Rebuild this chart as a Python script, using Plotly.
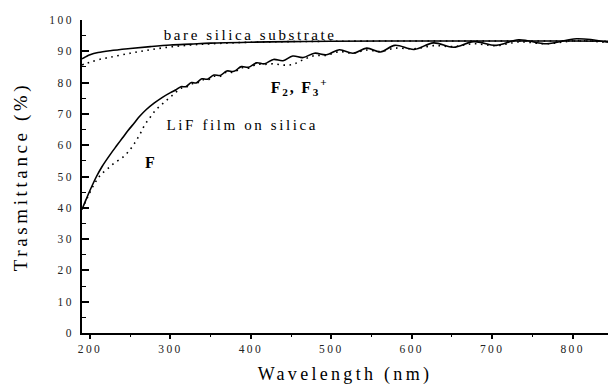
import plotly.graph_objects as go

# ---- data ----
wl_bare = [190, 195, 200, 210, 225, 250, 275, 300, 325, 350, 400, 450, 500, 600, 700, 800, 844]
bare_solid = [87.6, 88.3, 88.9, 89.6, 90.2, 90.9, 91.5, 92.0, 92.3, 92.6, 92.9, 93.1, 93.2, 93.3, 93.3, 93.3, 93.2]
bare_dotted = [85.6, 86.1, 86.5, 87.3, 88.1, 89.4, 90.5, 91.4, 92.0, 92.4, 92.9, 93.1, 93.2, 93.3, 93.3, 93.3, 93.2]

wl_lif = [190, 195, 200, 208, 215, 225, 233, 240, 247, 255, 262, 270, 280, 290, 300, 307,
          313, 319, 326, 332, 339, 346, 354, 362, 370, 379, 388, 397, 407, 417, 428, 440,
          452, 465, 479, 494, 510, 527, 544, 561, 579, 603, 627, 652, 677, 705, 733, 768, 805, 844]
lif_solid = [39.5, 42.6, 45.6, 50.0, 53.2, 57.0, 59.8, 62.2, 64.6, 67.1, 69.3, 71.4, 73.5, 75.3, 76.8, 77.7,
             78.7, 78.7, 80.0, 79.9, 81.2, 81.1, 82.4, 82.3, 83.7, 83.6, 85.1, 84.9, 86.3, 86.0, 87.4, 87.0,
             88.5, 88.0, 89.4, 88.9, 90.5, 89.4, 91.0, 89.8, 91.9, 90.6, 92.7, 91.3, 93.1, 91.9, 93.7, 92.4, 94.0, 92.9]

wl_lif_dot = [190, 195, 200, 205, 210, 215, 222, 230, 240, 248, 255, 262, 268, 275, 282, 290, 298, 305,
              313, 319, 326, 332, 339, 346, 354, 362, 370, 379, 388, 397, 407, 417, 428, 440,
              452, 465, 479, 494, 510, 527, 544, 561, 579, 603, 627, 652, 677, 705, 733, 768, 805, 844]
lif_dotted = [39.5, 42.3, 45.0, 47.5, 49.5, 51.0, 52.5, 54.3, 56.0, 58.0, 60.5, 63.5, 66.5, 69.0, 71.3, 73.2, 75.0, 76.5,
              78.2, 78.4, 79.6, 79.6, 80.9, 80.8, 82.0, 82.0, 83.4, 83.3, 84.7, 84.6, 85.8, 85.8, 86.0, 85.6,
              85.8, 87.3, 88.6, 88.7, 89.9, 89.4, 90.4, 89.9, 91.0, 90.8, 91.8, 91.5, 92.4, 91.8, 93.0, 92.4, 93.4, 92.8]

x_ticks = [200, 300, 400, 500, 600, 700, 800]
y_ticks = [0, 10, 20, 30, 40, 50, 60, 70, 80, 90, 100]

FONT = "Liberation Serif, Times New Roman, serif"

fig = go.Figure()
fig.add_trace(go.Scatter(x=wl_bare, y=bare_dotted, mode="lines", name="bare silica (dotted)",
                         line=dict(color="black", width=1.6, dash="1.6px,4.5px", shape="spline")))
fig.add_trace(go.Scatter(x=wl_bare, y=bare_solid, mode="lines", name="bare silica substrate",
                         line=dict(color="black", width=1.6, shape="spline")))
fig.add_trace(go.Scatter(x=wl_lif_dot, y=lif_dotted, mode="lines", name="LiF film (dotted)",
                         line=dict(color="black", width=1.6, dash="1.6px,4.5px", shape="spline")))
fig.add_trace(go.Scatter(x=wl_lif, y=lif_solid, mode="lines", name="LiF film on silica",
                         line=dict(color="black", width=1.6, shape="spline")))

fig.update_layout(
    width=608, height=385,
    margin=dict(l=82.3, r=0, t=19.5, b=51.7),
    paper_bgcolor="white", plot_bgcolor="white",
    showlegend=False,
    font=dict(family=FONT, color="black"),
    xaxis=dict(range=[190, 844], tickvals=x_ticks, ticktext=[str(v) for v in x_ticks],
               ticks="outside", ticklen=4, tickwidth=1.5, tickcolor="black",
               minor=dict(dtick=50, tick0=200, ticks="outside", ticklen=2.5, tickwidth=1.3, tickcolor="black"),
               showline=True, linecolor="black", linewidth=1.8, showgrid=False, zeroline=False,
               tickfont=dict(family=FONT, size=11.5, color="#222"),
               title=dict(text="Wavelength (nm)", font=dict(family=FONT, size=18, color="black"), standoff=14)),
    xaxis2=dict(overlaying="x", matches="x", side="top", range=[190, 844], tick0=200, dtick=50,
                ticks="inside", ticklen=3, tickwidth=1.3, tickcolor="black", showticklabels=False,
                showline=True, linecolor="black", linewidth=1.8, showgrid=False, zeroline=False),
    yaxis=dict(range=[0, 100], tickvals=y_ticks, ticktext=[str(v) for v in y_ticks],
               ticks="inside", ticklen=7, tickwidth=1.5, tickcolor="black", ticklabelstandoff=4,
               minor=dict(dtick=5, tick0=0, ticks="inside", ticklen=4, tickwidth=1.3, tickcolor="black"),
               showline=True, linecolor="black", linewidth=1.8, showgrid=False, zeroline=False,
               tickfont=dict(family=FONT, size=11.5, color="#222"),
               title=dict(text="Trasmittance (%)", font=dict(family=FONT, size=19, color="black"), standoff=24)),
)

fig.add_annotation(x=399, y=95.1, xref="x", yref="y", text="bare silica substrate", showarrow=False,
                   font=dict(family=FONT, size=15, color="black"), xanchor="center", yanchor="middle")
fig.add_annotation(x=390, y=66.4, xref="x", yref="y", text="LiF film on silica", showarrow=False,
                   font=dict(family=FONT, size=15, color="black"), xanchor="center", yanchor="middle")
fig.add_annotation(x=430, y=78.5, xref="x", yref="y", text="<b>F<sub>2</sub>, F<sub>3</sub><sup>+</sup></b>",
                   showarrow=False, font=dict(family=FONT, size=16, color="black"), xanchor="left", yanchor="middle")
fig.add_annotation(x=274.9, y=54.4, xref="x", yref="y", text="<b>F</b>", showarrow=False,
                   font=dict(family=FONT, size=16, color="black"), xanchor="center", yanchor="middle")

spacing_css = """
var st = document.createElement('style');
st.textContent = '.xtick text, .ytick text {letter-spacing: 2.4px;}' +
  ' .g-xtitle text {letter-spacing: 3.3px;}' +
  ' .g-ytitle text {letter-spacing: 3.6px;}' +
  ' .annotation[data-index="0"] text, .annotation[data-index="1"] text {letter-spacing: 2.6px;}' +
  ' .annotation[data-index="2"] text {letter-spacing: 1.8px;}';
document.head.appendChild(st);
"""

fig.write_html("out.html", post_script=spacing_css)
